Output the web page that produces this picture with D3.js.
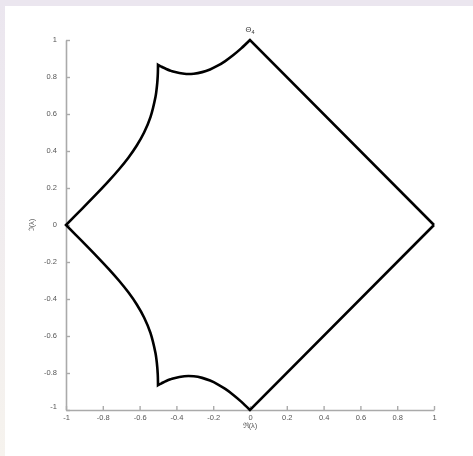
<!DOCTYPE html>
<html>
<head>
<meta charset="utf-8">
<script src="https://cdn.jsdelivr.net/npm/d3@7"></script>
<style>
  html, body { margin: 0; padding: 0; }
  body { width: 473px; height: 456px; background: #ffffff; overflow: hidden; }
  svg { display: block; will-change: transform; }
</style>
</head>
<body>
<svg id="chart" width="473" height="456"></svg>
<script>
// Tick values for both axes
const xTicks = [-1, -0.8, -0.6, -0.4, -0.2, 0, 0.2, 0.4, 0.6, 0.8, 1];
const yTicks = [-1, -0.8, -0.6, -0.4, -0.2, 0, 0.2, 0.4, 0.6, 0.8, 1];

// Boundary of the region, upper half, as [Re, Im] pairs.
// Straight edge 1 -> i
const edgeRight = [[1, 0], [0, 1]];
// Arc from i to e^{2πi/3}
const arcTop = [
  [0, 1], [-0.04779, 0.95461], [-0.09218, 0.91714], [-0.13445, 0.88619],
  [-0.17573, 0.86092], [-0.21713, 0.84094], [-0.25988, 0.82635],
  [-0.30560, 0.81792], [-0.35679, 0.81751], [-0.41803, 0.82958],
  [-0.43221, 0.83427], [-0.45522, 0.84335], [-0.47204, 0.85113],
  [-0.48097, 0.85566], [-0.49027, 0.86059], [-0.5, 0.86603]
];
// Arc from e^{2πi/3} to -1
const arcLeft = [
  [-0.5, 0.86603], [-0.50026, 0.84385], [-0.50073, 0.82295], [-0.50162, 0.80352],
  [-0.50400, 0.76782], [-0.50920, 0.72116], [-0.51346, 0.69358],
  [-0.54101, 0.58336], [-0.57559, 0.49990], [-0.61532, 0.42949],
  [-0.66004, 0.36518], [-0.71030, 0.30259], [-0.76726, 0.23830],
  [-0.83265, 0.16908], [-0.90898, 0.09124], [-1, 0]
];
// Lower half (complex conjugates), from -1 back round to 1
const arcLeftLower = [
  [-1, 0], [-0.90898, -0.09124], [-0.83265, -0.16908], [-0.76726, -0.23830],
  [-0.71030, -0.30259], [-0.66004, -0.36518], [-0.61532, -0.42949],
  [-0.57559, -0.49990], [-0.54101, -0.58336], [-0.51346, -0.69358],
  [-0.50920, -0.72116], [-0.50400, -0.76782], [-0.50162, -0.80352],
  [-0.50073, -0.82295], [-0.50026, -0.84385], [-0.5, -0.86603]
];
const arcBottom = [
  [-0.5, -0.86603], [-0.49027, -0.86059], [-0.48097, -0.85566], [-0.47204, -0.85113],
  [-0.45522, -0.84335], [-0.43221, -0.83427], [-0.41803, -0.82958],
  [-0.35679, -0.81751], [-0.30560, -0.81792], [-0.25988, -0.82635],
  [-0.21713, -0.84094], [-0.17573, -0.86092], [-0.13445, -0.88619],
  [-0.09218, -0.91714], [-0.04779, -0.95461], [0, -1]
];
const edgeLowerRight = [[0, -1], [1, 0]];

const svg = d3.select("#chart");
const W = 473, H = 456;

const defs = svg.append("defs");
// Window backdrop and white figure panel
const bg = defs.append("linearGradient")
  .attr("id", "edge").attr("x1", 0).attr("y1", 0).attr("x2", 0).attr("y2", 1);
bg.append("stop").attr("offset", "0%").attr("stop-color", "#ebe6ef");
bg.append("stop").attr("offset", "100%").attr("stop-color", "#f6f3ee");
// Pass-through filter: text is rasterised off-screen with grey antialiasing
const flat = defs.append("filter").attr("id", "flat")
  .attr("filterUnits", "userSpaceOnUse")
  .attr("x", -600).attr("y", -600).attr("width", 1800).attr("height", 1800);
flat.append("feOffset").attr("dx", 0).attr("dy", 0);

svg.append("rect").attr("width", W).attr("height", H).attr("fill", "url(#edge)");
svg.append("rect").attr("x", 0).attr("y", 0).attr("width", W).attr("height", 6).attr("fill", "#ebe6ef");
svg.append("rect").attr("x", 5).attr("y", 6).attr("width", W - 5).attr("height", H - 6).attr("fill", "#ffffff");

const x = d3.scaleLinear().domain([-1, 1]).range([66, 434]);
const y = d3.scaleLinear().domain([-1, 1]).range([410, 40]);

const axisColor = "#aaaaaa";
const labelColor = "#555555";
const fontFam = "Arial, 'Liberation Sans', sans-serif";
const fmt = d => String(d);   // plain hyphen-minus, as printed on the axes

// Bottom axis with inward ticks
const gx = svg.append("g").attr("transform", `translate(0,${y(-1)})`)
  .attr("filter", "url(#flat)")
  .call(d3.axisBottom(x).tickValues(xTicks).tickSizeInner(-4).tickSizeOuter(0)
    .tickPadding(8).tickFormat(fmt));
gx.select(".domain").attr("stroke", axisColor).attr("stroke-width", 1.6);
gx.selectAll(".tick line").attr("stroke", axisColor).attr("stroke-width", 1.4);
gx.selectAll(".tick text").attr("fill", labelColor).attr("font-size", 7.5)
  .attr("font-family", fontFam).attr("dy", "0.2em");

// Left axis with inward ticks
const gy = svg.append("g").attr("transform", `translate(${x(-1)},0)`)
  .attr("filter", "url(#flat)")
  .call(d3.axisLeft(y).tickValues(yTicks).tickSizeInner(-4).tickSizeOuter(0)
    .tickPadding(9).tickFormat(fmt));
gy.select(".domain").attr("stroke", axisColor).attr("stroke-width", 1.6);
gy.selectAll(".tick line").attr("stroke", axisColor).attr("stroke-width", 1.4);
gy.selectAll(".tick text").attr("fill", labelColor).attr("font-size", 7.5)
  .attr("font-family", fontFam).attr("dy", "0.2em");
// Nudge the shared -1 label up so it clears the x-axis one
gy.selectAll(".tick text").filter(d => d === -1).attr("dy", "-0.15em");

// Region boundary: straight edges plus smooth arcs, joined into one path
const straight = d3.line().x(d => x(d[0])).y(d => y(d[1]));
const smooth = d3.line().x(d => x(d[0])).y(d => y(d[1])).curve(d3.curveCatmullRom.alpha(0.5));
const pieces = [
  straight(edgeRight),
  smooth(arcTop),
  smooth(arcLeft),
  smooth(arcLeftLower),
  smooth(arcBottom),
  straight(edgeLowerRight)
];
const pathD = pieces.map((p, i) => i === 0 ? p : p.replace(/^M[^CLZ]*/, "")).join("");
svg.append("path")
  .attr("d", pathD)
  .attr("fill", "none")
  .attr("stroke", "#000000")
  .attr("stroke-width", 2.6)
  .attr("stroke-linejoin", "miter")
  .attr("stroke-miterlimit", 10);

// Title and axis labels
const labels = svg.append("g").attr("filter", "url(#flat)");
const title = labels.append("text").attr("x", x(0)).attr("y", 32)
  .attr("text-anchor", "middle").attr("font-family", fontFam)
  .attr("font-size", 7.5).attr("fill", "#333333");
title.append("tspan").text("Θ");
title.append("tspan").attr("font-size", 5.5).attr("dy", 2).text("4");

labels.append("text").attr("x", x(0)).attr("y", 428)
  .attr("text-anchor", "middle").attr("font-family", fontFam)
  .attr("font-size", 7.5).attr("fill", labelColor)
  .text("ℜ(λ)");

labels.append("text")
  .attr("transform", `translate(34,${y(0)}) rotate(-90)`)
  .attr("text-anchor", "middle").attr("font-family", fontFam)
  .attr("font-size", 7.5).attr("fill", labelColor)
  .text("ℑ(λ)");
</script>
</body>
</html>
